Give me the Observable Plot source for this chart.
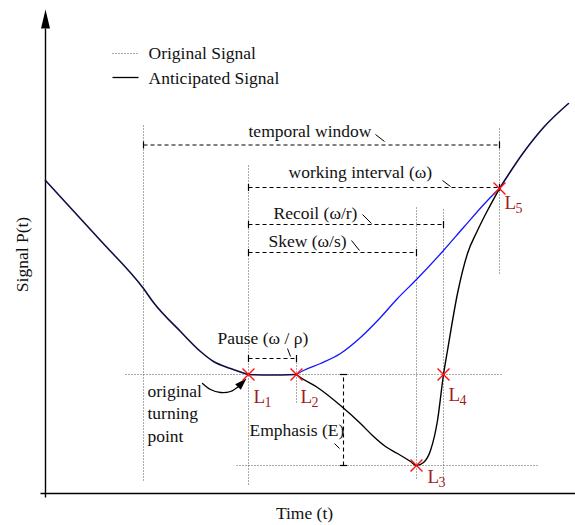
<!DOCTYPE html>
<html>
<head>
<meta charset="utf-8">
<script src="https://cdn.jsdelivr.net/npm/d3@7"></script>
<script src="https://cdn.jsdelivr.net/npm/@observablehq/plot@0.6"></script>
<style>
  html, body { margin: 0; padding: 0; background: #fff; }
</style>
</head>
<body>
<div id="chart"></div>
<script>
// ---- Data (time t, signal p) ----
const sharedBefore = [
  {t: 0, p: 313}, {t: 55, p: 253}, {t: 98, p: 205}, {t: 108, p: 191},
  {t: 135, p: 162}, {t: 155, p: 142}, {t: 168, p: 132}, {t: 185, p: 125},
  {t: 198, p: 120.5}, {t: 203, p: 119}, {t: 225, p: 118.5}, {t: 251, p: 119}
];
const originalAfter = [
  {t: 251, p: 119}, {t: 258, p: 123}, {t: 275, p: 130}, {t: 295, p: 140},
  {t: 315, p: 156}, {t: 335, p: 176}, {t: 352, p: 195}, {t: 371, p: 214},
  {t: 398, p: 243}, {t: 418, p: 266}, {t: 442, p: 293}, {t: 454, p: 305}
];
const anticipatedAfter = [
  {t: 251, p: 119}, {t: 255, p: 116}, {t: 272, p: 106}, {t: 295, p: 88},
  {t: 315, p: 70}, {t: 327, p: 58}, {t: 340, p: 47}, {t: 352, p: 40}, {t: 365, p: 32},
  {t: 371, p: 28}, {t: 378, p: 31}, {t: 385, p: 43}, {t: 392, p: 73},
  {t: 398, p: 119}, {t: 402, p: 143}, {t: 412, p: 200}, {t: 422, p: 240},
  {t: 432, p: 263}, {t: 442, p: 283}, {t: 454, p: 305}
];
const sharedAfter = [
  {t: 454, p: 305}, {t: 478, p: 341}, {t: 498, p: 366}, {t: 523, p: 390}
];
const keyPoints = [
  {name: "L", sub: "1", t: 203, p: 119, lt: 208, lp: 91},
  {name: "L", sub: "2", t: 251, p: 119, lt: 255, lp: 91},
  {name: "L", sub: "3", t: 371, p: 28,  lt: 382, lp: 11},
  {name: "L", sub: "4", t: 398, p: 119, lt: 403, lp: 93},
  {name: "L", sub: "5", t: 454, p: 305, lt: 459, lp: 285}
];
// dotted reference lines
const refH = [ {p: 119, t1: 80, t2: 458}, {p: 28, t1: 191, t2: 492} ];
const refV = [
  {t: 98, p1: 13, p2: 370}, {t: 203, p1: 9, p2: 328}, {t: 251, p1: 91, p2: 138},
  {t: 371, p1: 15, p2: 286}, {t: 398, p1: 13, p2: 286}, {t: 454, p1: 220, p2: 365}
];
// dashed dimension lines with labels and leaders
const dims = [
  {label: "temporal window",       p: 348.5, t1: 98,  t2: 454, lt: 203, lp: 357, a: [330, 359], b: [339, 352]},
  {label: "working interval (ω)",  p: 306,   t1: 203, t2: 454, lt: 243, lp: 316, a: [397, 313], b: [405, 307]},
  {label: "Recoil (ω/r)",          p: 269,   t1: 203, t2: 398, lt: 228, lp: 275, a: [317, 279], b: [326, 270]},
  {label: "Skew (ω/s)",            p: 241,   t1: 203, t2: 371, lt: 223, lp: 247, a: [306, 253], b: [314, 243]},
  {label: "Pause (ω / ρ)",         p: 135,   t1: 203, t2: 251, lt: 172, lp: 150, a: [242, 145], b: [245, 137]}
];
const emphasis = {label: "Emphasis (E)", t: 298, p1: 28, p2: 119, lt: 204, lp: 58, a: [289, 50], b: [294, 45]};
const turning = {label: "original\nturning\npoint", lt: 102, lp: 52};
const turningArrow = [
  {t: 157, p: 110}, {t: 165, p: 104}, {t: 175, p: 101}, {t: 185, p: 102}, {t: 193, p: 107}
];
const turningHead = [{t: 192.5, p: 106.5}];
const legendItems = [
  {label: "Original Signal",    p: 440, lp: 435, dotted: true},
  {label: "Anticipated Signal", p: 416, lp: 410, dotted: false}
];
const legendT = {t1: 67, t2: 92, lt: 103};
const axisY = {t: 0, p1: -4, p2: 465, title: "Signal P(t)", tt: -23, tp: 239};
const axisX = {p: 0, t1: -5, t2: 530, title: "Time (t)", tt: 259, tp: -25};

// ---- helpers ----
function headSymbol(len, w, angleDeg) {
  const a = angleDeg * Math.PI / 180, c = Math.cos(a), s = Math.sin(a);
  const rot = ([x, y]) => [x * c - y * s, x * s + y * c];
  return {
    draw(ctx) {
      const pts = [[-w / 2, 0], [0, -len], [w / 2, 0]].map(rot);
      ctx.moveTo(pts[0][0], pts[0][1]);
      ctx.lineTo(pts[1][0], pts[1][1]);
      ctx.lineTo(pts[2][0], pts[2][1]);
      ctx.closePath();
    }
  };
}

const FONT = "Liberation Serif, Times New Roman, serif";
const dotted = {stroke: "#555", strokeWidth: 1, strokeDasharray: "1,2"};
const dashed = {stroke: "#000", strokeWidth: 1.1, strokeDasharray: "4,3"};
const txt = {fontSize: 17.5, fill: "#111", textAnchor: "start", lineAnchor: "bottom"};

const chart = Plot.plot({
  width: 575,
  height: 525,
  margin: 0,
  x: {domain: [-45, 530], axis: null},
  y: {domain: [-32, 493], axis: null},
  style: {fontFamily: FONT, background: "white", overflow: "visible"},
  marks: [
    // axes
    Plot.link([axisY], {x1: "t", x2: "t", y1: "p1", y2: "p2", stroke: "#000", strokeWidth: 1.4}),
    Plot.link([axisX], {x1: "t1", x2: "t2", y1: "p", y2: "p", stroke: "#000", strokeWidth: 1.4}),
    Plot.dot([axisY], {x: "t", y: "p2", symbol: headSymbol(19, 9, 0), r: 5, fill: "#000", stroke: "none"}),
    Plot.text([axisY], {x: "tt", y: "tp", text: "title", rotate: -90, fontSize: 17.5, fill: "#111"}),
    Plot.text([axisX], {x: "tt", y: "tp", text: "title", fontSize: 17.5, fill: "#111", lineAnchor: "bottom"}),

    // dotted reference lines
    Plot.link(refH, {x1: "t1", x2: "t2", y1: "p", y2: "p", ...dotted}),
    Plot.link(refV, {x1: "t", x2: "t", y1: "p1", y2: "p2", ...dotted}),

    // dashed dimension lines with end ticks
    Plot.link(dims, {x1: "t1", x2: "t2", y1: "p", y2: "p", ...dashed}),
    Plot.link(dims, {x1: "t1", x2: "t1", y1: d => d.p - 3.5, y2: d => d.p + 3.5, stroke: "#000", strokeWidth: 1.2}),
    Plot.link(dims, {x1: "t2", x2: "t2", y1: d => d.p - 3.5, y2: d => d.p + 3.5, stroke: "#000", strokeWidth: 1.2}),
    Plot.link(dims, {x1: d => d.a[0], y1: d => d.a[1], x2: d => d.b[0], y2: d => d.b[1], stroke: "#000", strokeWidth: 1}),
    Plot.text(dims, {x: "lt", y: "lp", text: "label", ...txt}),

    Plot.link([emphasis], {x1: "t", x2: "t", y1: "p1", y2: "p2", ...dashed}),
    Plot.link([emphasis], {x1: d => d.t - 3.5, x2: d => d.t + 3.5, y1: "p1", y2: "p1", stroke: "#000", strokeWidth: 1.2}),
    Plot.link([emphasis], {x1: d => d.t - 3.5, x2: d => d.t + 3.5, y1: "p2", y2: "p2", stroke: "#000", strokeWidth: 1.2}),
    Plot.link([emphasis], {x1: d => d.a[0], y1: d => d.a[1], x2: d => d.b[0], y2: d => d.b[1], stroke: "#000", strokeWidth: 1}),
    Plot.text([emphasis], {x: "lt", y: "lp", text: "label", ...txt}),

    // signals
    Plot.line(originalAfter, {x: "t", y: "p", stroke: "#1414ff", strokeWidth: 1.3, curve: "monotone-x"}),
    Plot.line(anticipatedAfter, {x: "t", y: "p", stroke: "#000", strokeWidth: 1.4, curve: "monotone-x"}),
    Plot.line(sharedBefore, {x: "t", y: "p", stroke: "#0d0d45", strokeWidth: 1.6, curve: "monotone-x"}),
    Plot.line(sharedAfter, {x: "t", y: "p", stroke: "#0d0d45", strokeWidth: 1.6, curve: "monotone-x"}),

    // original turning point annotation
    Plot.line(turningArrow, {x: "t", y: "p", stroke: "#000", strokeWidth: 1.3, curve: "catmull-rom"}),
    Plot.dot(turningHead, {x: "t", y: "p", symbol: headSymbol(12, 8, 45), r: 5, fill: "#000", stroke: "none"}),
    Plot.text([turning], {x: "lt", y: "lp", text: "label", ...txt, lineHeight: 1.27}),

    // key points
    Plot.dot(keyPoints, {x: "t", y: "p", symbol: "times", r: 5.5, stroke: "#ff1010", strokeWidth: 1.4}),
    Plot.text(keyPoints, {x: "lt", y: "lp", text: "name", fontSize: 19, fill: "#a01c1c", textAnchor: "start", lineAnchor: "bottom"}),
    Plot.text(keyPoints, {x: "lt", y: "lp", text: "sub", dx: 11, dy: 4, fontSize: 14, fill: "#a01c1c", textAnchor: "start", lineAnchor: "bottom"}),

    // legend
    Plot.link(legendItems.filter(d => d.dotted), {x1: () => legendT.t1, x2: () => legendT.t2, y1: "p", y2: "p", ...dotted}),
    Plot.link(legendItems.filter(d => !d.dotted), {x1: () => legendT.t1, x2: () => legendT.t2 + 1, y1: "p", y2: "p", stroke: "#000", strokeWidth: 1.3}),
    Plot.text(legendItems, {x: () => legendT.lt, y: "lp", text: "label", ...txt})
  ]
});
document.getElementById("chart").appendChild(chart);
</script>
</body>
</html>
